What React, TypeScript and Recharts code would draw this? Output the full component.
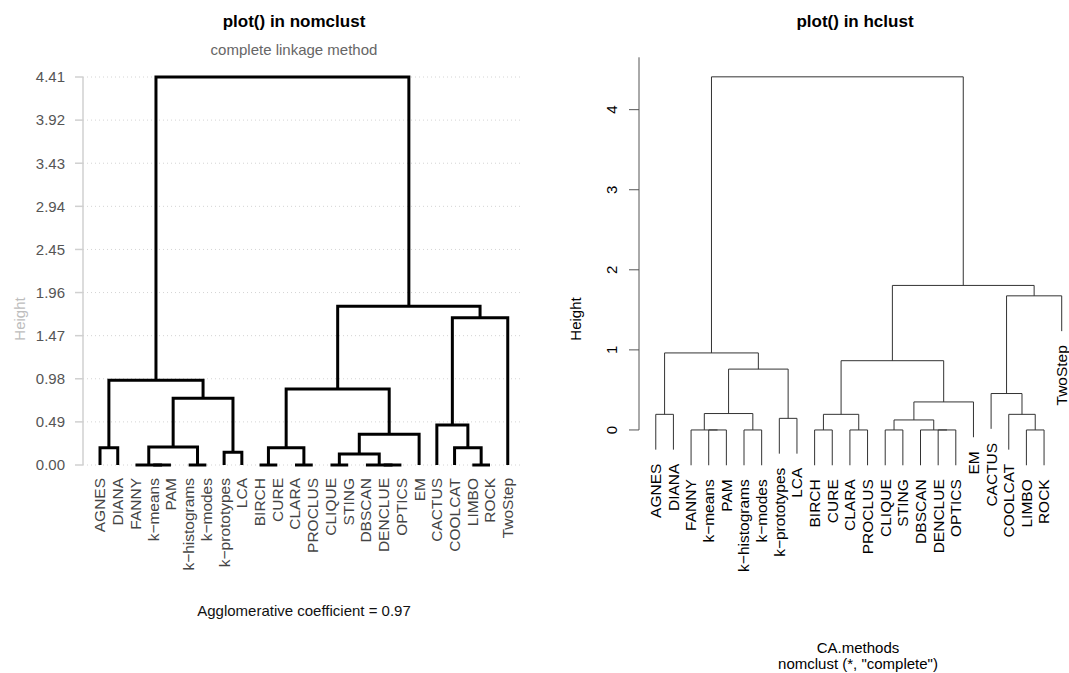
import React from 'react';
import { ScatterChart, Scatter, XAxis, YAxis, CartesianGrid } from 'recharts';

const FONT = '"Liberation Sans", Arial, Helvetica, sans-serif';

// Leaves in dendrogram order
const leafLabels = [
  'AGNES', 'DIANA', 'FANNY', 'k\u2212means', 'PAM', 'k\u2212histograms', 'k\u2212modes',
  'k\u2212prototypes', 'LCA', 'BIRCH', 'CURE', 'CLARA', 'PROCLUS', 'CLIQUE', 'STING',
  'DBSCAN', 'DENCLUE', 'OPTICS', 'EM', 'CACTUS', 'COOLCAT', 'LIMBO', 'ROCK', 'TwoStep',
];

// R-style merge matrix: negative = leaf (1-based), positive = earlier merge step
const mergeLeft = [-4, -3, -6, -10, -12, -14, -17, -16, -22, 6, -8, -1, -21, 2, 4, 10, -20, 14, 15, 12, 17, 19, 20];
const mergeRight = [-5, 1, -7, -11, -13, -15, -18, 7, -23, 8, -9, -2, 9, 3, 5, -19, 13, 11, 16, 18, -24, 21, 22];
const mergeHeight = [0, 0, 0, 0, 0, 0, 0, 0, 0, 0.125, 0.145, 0.195, 0.195, 0.205, 0.195, 0.35, 0.455, 0.76, 0.865, 0.962, 1.675, 1.805, 4.41];

const leftTicks = [0, 0.49, 0.98, 1.47, 1.96, 2.45, 2.94, 3.43, 3.92, 4.41];
const rightTicks = [0, 1, 2, 3, 4];
const leafIndex = leafLabels.map((_, i) => i + 1);
const HANG = 0.441;
const RIGHT_TOP = 4.654;

type Pt = { x: number; y: number };
type Leaf = { x: number; y: number; label: string };

function buildDendrogram(hang: number | null) {
  const nodeX: number[] = [];
  const pos = (c: number) => (c < 0 ? -c : nodeX[c - 1]);
  const segments: Pt[][] = [];
  const leafEnds: Leaf[] = [];
  mergeLeft.forEach((l, i) => {
    const r = mergeRight[i];
    const h = mergeHeight[i];
    const yOf = (c: number) => (c < 0 ? (hang === null ? 0 : h - hang) : mergeHeight[c - 1]);
    const xl = pos(l);
    const xr = pos(r);
    segments.push([
      { x: xl, y: yOf(l) },
      { x: xl, y: h },
      { x: xr, y: h },
      { x: xr, y: yOf(r) },
    ]);
    [l, r].forEach((c) => {
      if (c < 0) leafEnds.push({ x: -c, y: yOf(c), label: leafLabels[-c - 1] });
    });
    nodeX.push((xl + xr) / 2);
  });
  return { segments, leafEnds };
}

const leftDend = buildDendrogram(null);
const rightDend = buildDendrogram(HANG);

const Empty = () => <g />;

const LeftLeafTick = (props: any) => {
  const { x, y, payload } = props;
  const label = leafLabels[Math.round(payload.value) - 1];
  return (
    <text x={x} y={y} transform={`rotate(-90, ${x}, ${y})`} textAnchor="end" dy="0.35em"
      fill="#444" fontSize={15.5} fontFamily={FONT}>{label}</text>
  );
};

const RightYTick = (props: any) => {
  const { x, y, payload } = props;
  return (
    <text x={x} y={y} transform={`rotate(-90, ${x}, ${y})`} textAnchor="middle" dy="0.35em"
      fill="#000" fontSize={15} fontFamily={FONT}>{String(payload.value)}</text>
  );
};

const RightLeafLabel = (props: any) => {
  const { cx, cy, payload } = props;
  const y = cy + 14;
  return (
    <text x={cx} y={y} transform={`rotate(-90, ${cx}, ${y})`} textAnchor="end" dy="0.35em"
      fill="#000" fontSize={15.5} fontFamily={FONT}>{payload.label}</text>
  );
};

const Txt = ({ x, y, children, size = 15, color = '#000', bold = false, rotate = false }: any) => (
  <div style={{
    position: 'absolute', left: x, top: y, transform: `translate(-50%, -50%)${rotate ? ' rotate(-90deg)' : ''}`,
    whiteSpace: 'nowrap', fontFamily: FONT, fontSize: size, color, fontWeight: bold ? 'bold' : 'normal', lineHeight: 1,
  }}>{children}</div>
);

export default function App() {
  return (
    <div style={{ position: 'absolute', left: 0, top: 0, width: 1069, height: 673, background: '#fff', overflow: 'hidden' }}>
      <div style={{ position: 'absolute', left: 0, top: 0 }}>
        <ScatterChart width={535} height={673} margin={{ top: 77, right: 12, bottom: 178, left: 0 }}>
          <CartesianGrid vertical={false} stroke="#d4d4d4" strokeDasharray="1 3" />
          <XAxis type="number" dataKey="x" domain={[0.04, 24.86]} ticks={leafIndex} interval={0} height={30}
            axisLine={false} tickLine={false} tickSize={0} tickMargin={13} tick={<LeftLeafTick />} />
          <YAxis type="number" dataKey="y" domain={[0, 4.41]} ticks={leftTicks} interval={0} width={83}
            tickFormatter={(v: number) => v.toFixed(2)} axisLine={{ stroke: '#d0d0d0', strokeWidth: 1.5 }}
            tickLine={{ stroke: '#d0d0d0', strokeWidth: 1.5 }} tickSize={8} tickMargin={10}
            tick={{ fill: '#555', fontSize: 15, fontFamily: FONT }} />
          {leftDend.segments.map((seg, i) => (
            <Scatter key={`l${i}`} data={seg} shape={<Empty />} isAnimationActive={false}
              line={{ stroke: '#000', strokeWidth: 3, fill: 'none' }} fill="#000" />
          ))}
        </ScatterChart>
      </div>
      <div style={{ position: 'absolute', left: 540, top: 0 }}>
        <ScatterChart width={529} height={673} margin={{ top: 57.3, right: 2, bottom: 195, left: 0 }}>
          <XAxis type="number" dataKey="x" domain={[0.05, 24.3]} hide />
          <YAxis type="number" dataKey="y" domain={[-0.6, RIGHT_TOP]} ticks={rightTicks} interval={0} width={99}
            axisLine={false} tickLine={{ stroke: '#555', strokeWidth: 1 }} tickSize={10} tickMargin={17}
            tick={<RightYTick />} />
          <Scatter data={[{ x: 0.05, y: 0 }, { x: 0.05, y: RIGHT_TOP }]} shape={<Empty />} isAnimationActive={false}
            line={{ stroke: '#555', strokeWidth: 1, fill: 'none' }} fill="#555" />
          {rightDend.segments.map((seg, i) => (
            <Scatter key={`r${i}`} data={seg} shape={<Empty />} isAnimationActive={false}
              line={{ stroke: '#333', strokeWidth: 1, fill: 'none' }} fill="#333" />
          ))}
          <Scatter data={rightDend.leafEnds} shape={<RightLeafLabel />} isAnimationActive={false} fill="#000" />
        </ScatterChart>
      </div>
      <Txt x={294} y={21} size={17} bold>plot() in nomclust</Txt>
      <Txt x={294} y={49} color="#666">complete linkage method</Txt>
      <Txt x={19} y={319} color="#bdbdbd" rotate>Height</Txt>
      <Txt x={304} y={610} color="#111">Agglomerative coefficient = 0.97</Txt>
      <Txt x={855} y={21} size={17} bold>plot() in hclust</Txt>
      <Txt x={575} y={319} rotate>Height</Txt>
      <Txt x={858} y={647}>CA.methods</Txt>
      <Txt x={858} y={663}>nomclust (*, "complete")</Txt>
    </div>
  );
}
